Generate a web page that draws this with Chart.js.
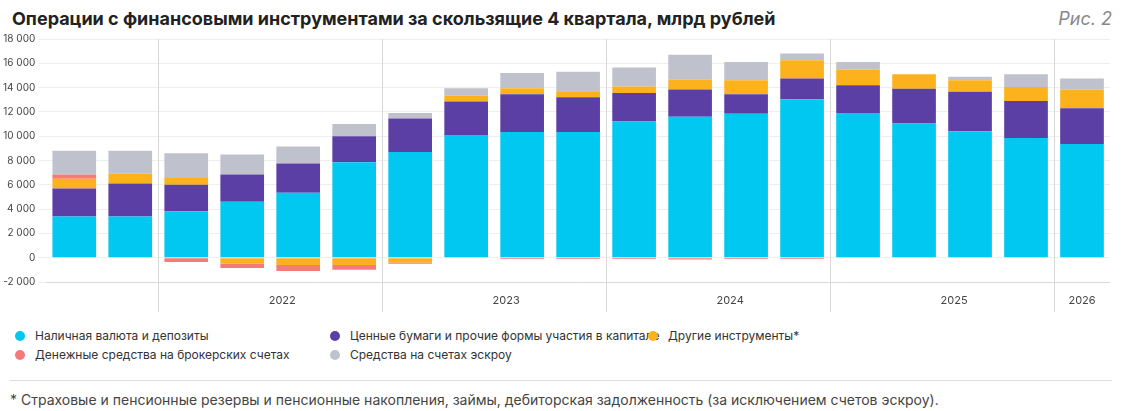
<!DOCTYPE html>
<html>
<head>
<meta charset="utf-8">
<script src="https://cdn.jsdelivr.net/npm/chart.js@4"></script>
<style>
  body { margin: 0; background: #fff; font-family: "Inter", "Noto Sans", sans-serif; width: 1134px; height: 411px; position: relative; overflow: hidden; }
  .title { position: absolute; left: 12px; top: 8px; font-size: 18px; font-weight: 700; color: #222; }
  .fig { position: absolute; right: 22px; top: 8px; font-size: 18px; font-style: italic; color: #888; }
  .wrap { position: absolute; left: 0; top: 30px; width: 1110px; height: 290px; }
  .legend { position: absolute; font-size: 12px; color: #333; }
  .legend span.dot { display: inline-block; width: 10px; height: 10px; border-radius: 50%; margin-right: 10px; vertical-align: -1px; }
  .rule { position: absolute; left: 10px; right: 22px; top: 380px; border-top: 1px solid #ddd; }
  .note { position: absolute; left: 10px; top: 391px; font-size: 14px; color: #444; }
</style>
</head>
<body>
<div class="title">Операции с финансовыми инструментами за скользящие 4 квартала, млрд рублей</div>
<div class="fig">Рис. 2</div>
<div class="wrap"><canvas id="chart"></canvas></div>
<div class="legend" style="left:15px;top:328px"><span class="dot" style="background:#00c8f0"></span>Наличная валюта и депозиты</div>
<div class="legend" style="left:330px;top:328px"><span class="dot" style="background:#5b3fa5"></span>Ценные бумаги и прочие формы участия в капитале</div>
<div class="legend" style="left:648px;top:328px"><span class="dot" style="background:#fbb21d"></span>Другие инструменты*</div>
<div class="legend" style="left:15px;top:347px"><span class="dot" style="background:#f57a7a"></span>Денежные средства на брокерских счетах</div>
<div class="legend" style="left:330px;top:347px"><span class="dot" style="background:#bfc1cc"></span>Средства на счетах эскроу</div>
<div class="rule"></div>
<div class="note">* Страховые и пенсионные резервы и пенсионные накопления, займы, дебиторская задолженность (за исключением счетов эскроу).</div>
<script>
'use strict';

// quarters (rolling 4Q), years shown under groups
const quarters = ['2021-3', '2021-4', '2022-1', '2022-2', '2022-3', '2022-4', '2023-1', '2023-2', '2023-3', '2023-4',
  '2024-1', '2024-2', '2024-3', '2024-4', '2025-1', '2025-2', '2025-3', '2025-4', '2026-1'];
const yearGroups = [['2022', 2, 5], ['2023', 6, 9], ['2024', 10, 13], ['2025', 14, 17], ['2026', 18, 18]];
const yTicks = [-2000, 0, 2000, 4000, 6000, 8000, 10000, 12000, 14000, 16000, 18000];

const cash = [3400, 3400, 3830, 4600, 5350, 7850, 8700, 10100, 10350, 10350, 11200, 11600, 11850, 13050, 11900, 11050, 10400, 9850, 9350];
const securities = [2300, 2700, 2170, 2250, 2400, 2150, 2750, 2750, 3100, 2850, 2350, 2250, 1600, 1700, 2300, 2850, 3250, 3050, 2950];
const other = [800, 800, 550, -500, -600, -600, -400, 500, 500, 500, 550, 800, 1150, 1500, 1300, 1200, 950, 1150, 1550];
const broker = [350, 0, -350, -350, -500, -400, -100, 0, -100, -100, -100, -150, -100, -100, 0, 0, 0, 0, 0];
const escrow = [1950, 1900, 2050, 1650, 1400, 1000, 450, 600, 1250, 1600, 1550, 2050, 1500, 550, 600, 0, 300, 1050, 900];

const separators = {
  id: 'separators',
  afterDraw(chart) {
    const ctx = chart.ctx, x = chart.scales.x, area = chart.chartArea;
    ctx.save();
    ctx.strokeStyle = '#d8d8d8';
    ctx.lineWidth = 1;
    ctx.fillStyle = '#444';
    ctx.font = '11px Inter, sans-serif';
    ctx.textAlign = 'center';
    yearGroups.forEach(([label, a, b]) => {
      if (a > 0) {
        const px = (x.getPixelForValue(a - 1) + x.getPixelForValue(a)) / 2;
        ctx.beginPath();
        ctx.moveTo(Math.round(px) + 0.5, area.top);
        ctx.lineTo(Math.round(px) + 0.5, area.bottom + 30);
        ctx.stroke();
      }
      const mid = (x.getPixelForValue(a) + x.getPixelForValue(b)) / 2 + (b > a ? 12 : 0);
      ctx.fillText(label, mid, area.bottom + 22);
    });
    ctx.restore();
  }
};

const ctx = document.getElementById('chart').getContext('2d');
new Chart(ctx, {
  type: 'bar',
  data: {
    labels: quarters,
    datasets: [
      { label: 'Наличная валюта и депозиты', data: cash, backgroundColor: '#00c8f0' },
      { label: 'Ценные бумаги и прочие формы участия в капитале', data: securities, backgroundColor: '#5b3fa5' },
      { label: 'Другие инструменты*', data: other, backgroundColor: '#fbb21d' },
      { label: 'Денежные средства на брокерских счетах', data: broker, backgroundColor: '#f57a7a' },
      { label: 'Средства на счетах эскроу', data: escrow, backgroundColor: '#bfc1cc' }
    ]
  },
  options: {
    responsive: true,
    maintainAspectRatio: false,
    animation: false,
    layout: { padding: { bottom: 30, right: 0, top: 4 } },
    plugins: { legend: { display: false }, tooltip: { enabled: false } },
    datasets: { bar: { categoryPercentage: 0.78, barPercentage: 1 } },
    scales: {
      x: {
        stacked: true,
        grid: { display: false },
        border: { color: '#d8d8d8' },
        ticks: { display: false }
      },
      y: {
        stacked: true,
        min: -2000, max: 18000,
        afterBuildTicks(axis) { axis.ticks = yTicks.map(v => ({ value: v })); },
        grid: { color: '#eeeeee' },
        border: { display: false },
        ticks: {
          color: '#444',
          font: { size: 10, family: 'Inter, sans-serif' },
          callback: v => String(v).replace(/\B(?=(\d{3})+(?!\d))/g, '\u00a0')
        }
      }
    }
  },
  plugins: [separators]
});
</script>
</body>
</html>
